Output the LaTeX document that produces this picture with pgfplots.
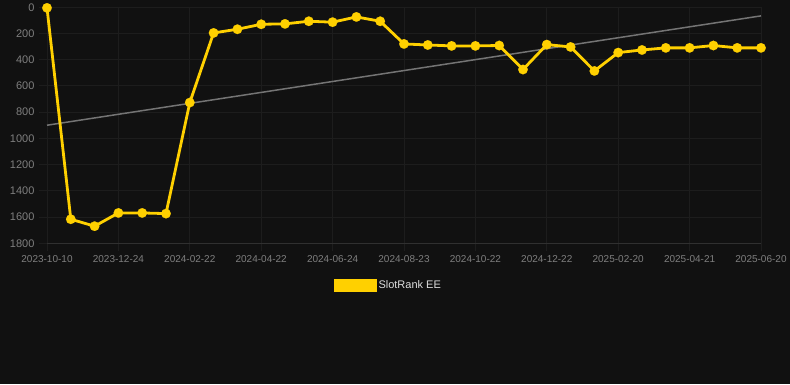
\documentclass[border=0pt]{standalone}
\usepackage{pgfplots}
\pgfplotsset{compat=1.18}
\usepackage{fontspec}
\setmainfont{Liberation Sans}
\definecolor{bg}{HTML}{111111}
\definecolor{gridc}{HTML}{1D1D1D}
\definecolor{basec}{HTML}{303030}
\definecolor{tickc}{HTML}{7F7F7F}
\definecolor{rankc}{HTML}{FFD000}
\definecolor{trendc}{HTML}{747474}
\definecolor{legc}{HTML}{DDDDDD}
\begin{document}
\begin{tikzpicture}[x=1pt,y=1pt]
\fill[bg] (0,0) rectangle (790,384);
\begin{axis}[
  at={(47pt,141pt)}, anchor=south west,
  scale only axis, width=714pt, height=236pt,
  xmin=0, xmax=30, ymin=0, ymax=1800, y dir=reverse,
  clip=false,
  xtick={0,3,...,30},
  xticklabels={2023-10-10,2023-12-24,2024-02-22,2024-04-22,2024-06-24,2024-08-23,2024-10-22,2024-12-22,2025-02-20,2025-04-21,2025-06-20},
  ytick={0,200,...,1800},
  grid=major,
  major grid style={draw=gridc, line width=0.8pt},
  axis line style={draw=none},
  tick style={draw=gridc, line width=0.8pt},
  major tick length=8pt,
  tick align=outside,
  tick pos=left,
  x tick label style={font=\fontsize{10}{12}\selectfont, text=tickc, yshift=-1pt},
  y tick label style={font=\fontsize{11}{13}\selectfont, text=tickc, xshift=-1pt},
  /pgf/number format/assume math mode=true,
  /pgf/number format/1000 sep={},
  legend style={at={(axis description cs:0.478,-0.178)}, anchor=center, draw=none, fill=none, text=legc, font=\fontsize{11}{13}\selectfont},
  legend cell align=left,
]
\draw[basec, line width=0.8pt] (axis cs:0,1800) -- (axis cs:30,1800);
\addplot[trendc, line width=1.5pt, forget plot] coordinates {(0,900) (30,66)};
\addplot[rankc, line width=2.8pt, mark=*, mark size=4.8pt, mark options={fill=rankc, draw=rankc, line width=0.1pt},
  legend image code/.code={\fill[rankc] (0pt,-5pt) rectangle (40pt,5pt);}]
coordinates {
(0,5) (1,1617) (2,1670) (3,1569) (4,1569) (5,1574) (6,727) (7,196) (8,168) (9,130)
(10,127) (11,107) (12,114) (13,74) (14,107) (15,280) (16,288) (17,295) (18,295) (19,292)
(20,475) (21,285) (22,303) (23,486) (24,346) (25,326) (26,310) (27,310) (28,292) (29,310) (30,310)
};
\addlegendentry{SlotRank EE}
\end{axis}
\end{tikzpicture}
\end{document}
